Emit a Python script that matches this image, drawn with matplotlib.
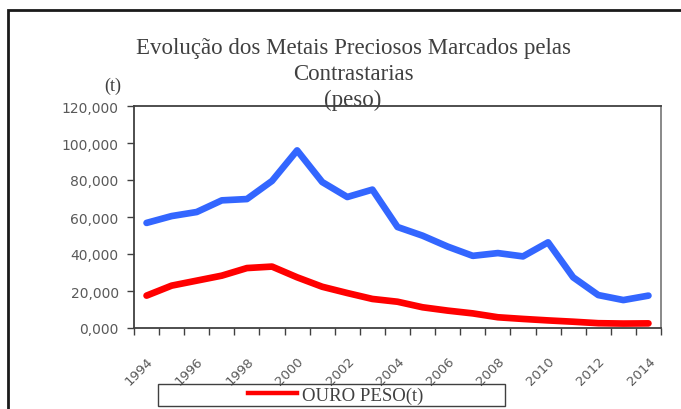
import matplotlib
matplotlib.use('Agg')
import matplotlib.pyplot as plt
from matplotlib.lines import Line2D
from matplotlib.patches import Rectangle

years = [str(y) for y in range(1994, 2015)]
prata = [56.8, 60.5, 62.7, 69.0, 69.7, 79.5, 96.0, 78.9, 70.8, 74.8, 54.6,
         49.9, 44.0, 39.0, 40.5, 38.7, 46.3, 27.4, 17.8, 15.1, 17.5]
ouro = [17.5, 22.9, 25.6, 28.3, 32.4, 33.2, 27.4, 22.3, 18.9, 15.7, 14.2,
        11.2, 9.4, 7.9, 5.8, 4.9, 4.1, 3.4, 2.6, 2.4, 2.5]

W, H = 681, 410
fig = plt.figure(figsize=(W / 100, H / 100), dpi=100)
ax = fig.add_axes([134 / W, 1 - 329 / H, (661 - 134) / W, (329 - 107) / H])

x = list(range(len(years)))
ax.plot(x, prata, color='#3366ff', lw=4.8, solid_capstyle='round', solid_joinstyle='round')
ax.plot(x, ouro, color='#ff0000', lw=4.8, solid_capstyle='round', solid_joinstyle='round')

ax.set_xlim(-0.5, len(years) - 0.5)
ax.set_ylim(0, 120)
ax.set_yticks(range(0, 121, 20))
ax.set_yticklabels([f'{v:.3f}'.replace('.', ',') for v in range(0, 121, 20)])

ax.set_xticks([i - 0.5 for i in range(len(years) + 1)])
ax.set_xticklabels([])
ax.set_xticks(x[::2], minor=True)
ax.set_xticklabels(years[::2], minor=True, rotation=45, ha='right', va='top',
                   rotation_mode='anchor')
ax.tick_params(axis='x', which='minor', length=0, pad=19, labelsize=9.5, labelcolor='#595959')
ax.tick_params(axis='x', which='major', length=5, width=1, color='#404040')
ax.tick_params(axis='y', length=5, width=1, color='#404040', labelsize=10,
               labelcolor='#595959', pad=6)

for s in ['left', 'bottom', 'top']:
    ax.spines[s].set_color('#404040')
    ax.spines[s].set_linewidth(1.3)
ax.spines['right'].set_color('#808080')
ax.spines['right'].set_linewidth(1.3)

serif = 'Liberation Serif'
fig.text(353 / W, 1 - 38 / H,
         'Evolução dos Metais Preciosos Marcados pelas\nContrastarias\n(peso)',
         ha='center', va='top', fontsize=16.5, family=serif, color='#404040',
         linespacing=1.32)
fig.text(113 / W, 1 - 86 / H, '(t)', ha='center', va='center', fontsize=13,
         family=serif, color='#404040')

# legend box
fig.add_artist(Rectangle((158 / W, 1 - 407 / H), (505 - 158) / W, (407 - 385) / H,
                         transform=fig.transFigure, fill=False, ec='#404040', lw=1))
handle = Line2D([], [], color='#ff0000', lw=3.2)
leg = fig.legend(handles=[handle], labels=['OURO PESO(t)'], loc='center',
                 bbox_to_anchor=(336 / W, 1 - 396 / H), frameon=False,
                 handlelength=2.6, handletextpad=0.3,
                 prop={'family': serif, 'size': 13.5})
for t in leg.get_texts():
    t.set_color('#404040')

# outer chart frame
fig.add_artist(Rectangle((8 / W, -0.2), 1.2, 1.2 - 11 / H, transform=fig.transFigure,
                         fill=False, ec='#1a1a1a', lw=2))

fig.savefig('out.png', dpi=100)
